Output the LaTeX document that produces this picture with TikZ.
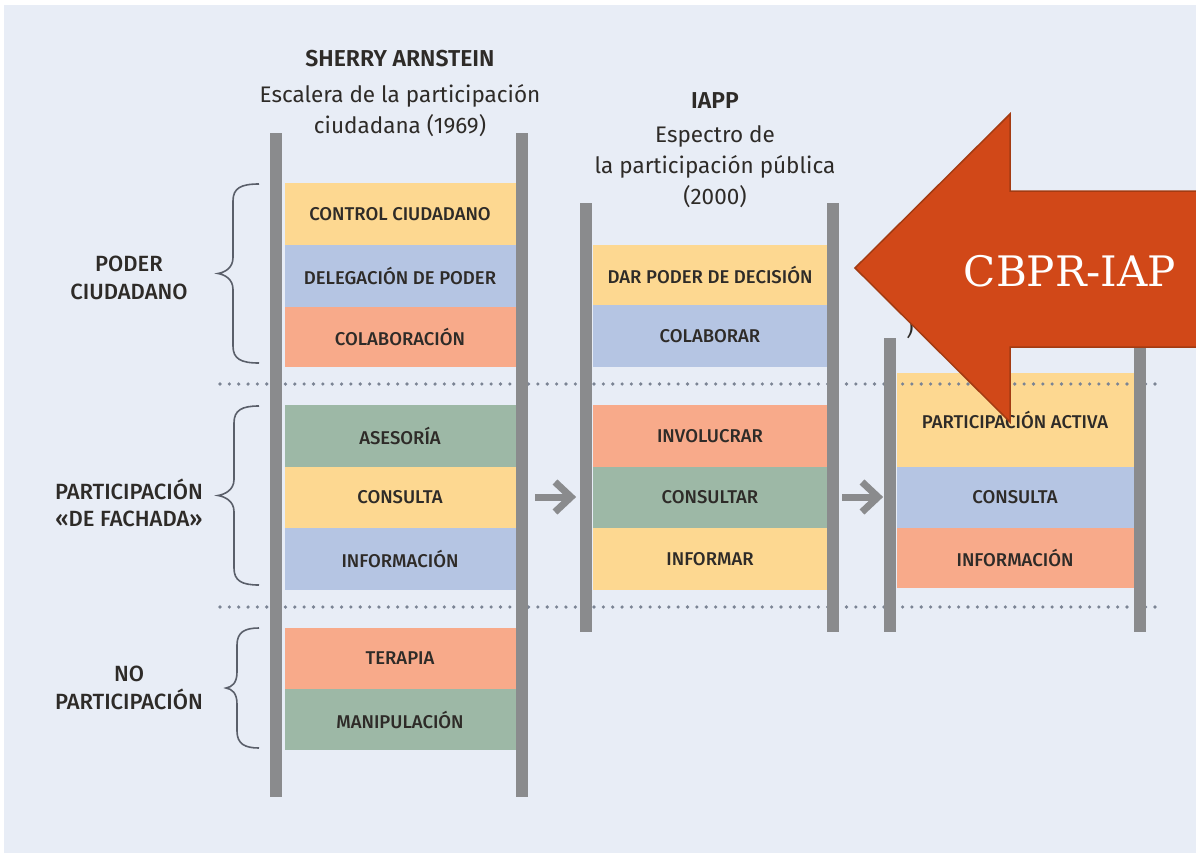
\documentclass[tikz,border=0pt]{standalone}
\usepackage{fontspec}
\setmainfont{Fira Sans}[UprightFont={Fira Sans Medium}, BoldFont={Fira Sans SemiBold}]
\newfontfamily\arrowfont{DejaVu Serif}
\newfontfamily\hdrfont{Fira Sans}[BoldFont={Fira Sans SemiBold}]
\definecolor{bg}{HTML}{E8EDF6}
\definecolor{cyel}{HTML}{FDD891}
\definecolor{cblu}{HTML}{B5C5E3}
\definecolor{csal}{HTML}{F8AA8A}
\definecolor{cgrn}{HTML}{9DB8A6}
\definecolor{rail}{HTML}{8A8B8D}
\definecolor{dots}{HTML}{7B8494}
\definecolor{brc}{HTML}{5A5F6A}
\definecolor{txt}{HTML}{2E2B28}
\definecolor{bigarrow}{HTML}{D14818}
\definecolor{bigedge}{HTML}{A33B12}
\tikzset{
  rung/.style={inner sep=0pt, outer sep=0pt, text=txt,
    font=\fontsize{18.5}{21}\selectfont},
  hdr/.style={inner sep=0pt, text=txt, font=\hdrfont\fontsize{22.5}{26}\selectfont},
  hdrb/.style={inner sep=0pt, text=txt, font=\hdrfont\fontsize{23}{26}\selectfont\bfseries},
  grp/.style={inner sep=0pt, text=txt, align=center,
    font=\fontsize{22}{27.5}\selectfont},
  railline/.style={draw=rail, line width=12.5pt},
  dotline/.style={draw=dots, line width=3.6pt, line cap=round, dash pattern=on 0pt off 9.35pt},
  bracestyle/.style={draw=brc, line width=1.6pt},
  grayarrow/.style={draw=rail, line width=7pt},
}
\newcommand{\mybrace}[4]{% top, bottom, spine x, tip x
  \pgfmathsetmacro\bm{(#1+#2)/2}
  \draw[bracestyle] (259,#1) .. controls (#3+8,#1) and (#3,#1+4) .. (#3,#1+17)
    -- (#3,\bm-16) .. controls (#3,\bm-5) and (#4+6,\bm-1) .. (#4,\bm)
    .. controls (#4+6,\bm+1) and (#3,\bm+5) .. (#3,\bm+16)
    -- (#3,#2-17) .. controls (#3,#2-4) and (#3+8,#2) .. (259,#2);
}
\begin{document}
\begin{tikzpicture}[x=1pt,y=-1pt]
\useasboundingbox (0,0) rectangle (1196,854);
\fill[white] (0,0) rectangle (1196,854);
\fill[bg] (4,5) rectangle (1196,853);

% headers
\node[hdrb] (h1a) at (400,59) {SHERRY ARNSTEIN};
\node[hdr] (h1b) at (400,96) {Escalera de la participación};
\node[hdr] (h1c) at (400,126) {ciudadana (1969)};
\node[hdrb] (h2a) at (715,101) {IAPP};
\node[hdr] (h2b) at (715,136) {Espectro de};
\node[hdr] (h2c) at (715,167) {la participación pública};
\node[hdr] (h2d) at (715,197) {(2000)};
\node[hdr] (h3x) at (910,328) {)};

% column 1 rungs
\node[rung, fill=cyel, minimum width=231, minimum height=62] (a1) at (400,214) {CONTROL CIUDADANO};
\node[rung, fill=cblu, minimum width=231, minimum height=62] (a2) at (400,276) {DELEGACIÓN DE PODER};
\node[rung, fill=csal, minimum width=231, minimum height=60] (a3) at (400,337) {COLABORACIÓN};
\node[rung, fill=cgrn, minimum width=231, minimum height=62] (a4) at (400,436) {ASESORÍA};
\node[rung, fill=cyel, minimum width=231, minimum height=61] (a5) at (400,497.5) {CONSULTA};
\node[rung, fill=cblu, minimum width=231, minimum height=62] (a6) at (400,559) {INFORMACIÓN};
\node[rung, fill=csal, minimum width=231, minimum height=61] (a7) at (400,658.5) {TERAPIA};
\node[rung, fill=cgrn, minimum width=231, minimum height=61] (a8) at (400,719.5) {MANIPULACIÓN};

% column 2 rungs
\node[rung, fill=cyel, minimum width=235, minimum height=60] (b1) at (710,275) {DAR PODER DE DECISIÓN};
\node[rung, fill=cblu, minimum width=235, minimum height=62] (b2) at (710,336) {COLABORAR};
\node[rung, fill=csal, minimum width=235, minimum height=62] (b3) at (710,436) {INVOLUCRAR};
\node[rung, fill=cgrn, minimum width=235, minimum height=61] (b4) at (710,497.5) {CONSULTAR};
\node[rung, fill=cyel, minimum width=235, minimum height=62] (b5) at (710,559) {INFORMAR};

% column 3 rungs
\node[rung, fill=cyel, minimum width=237, minimum height=94] (c1) at (1015,420) {};
\node[rung] (c1t) at (1015,420) {PARTICIPACIÓN ACTIVA};
\node[rung, fill=cblu, minimum width=237, minimum height=61] (c2) at (1015,497.5) {CONSULTA};
\node[rung, fill=csal, minimum width=237, minimum height=60] (c3) at (1015,558) {INFORMACIÓN};

% dotted separators
\coordinate (d1s) at (220,384);
\coordinate (d1e) at (1163,384);
\coordinate (d2s) at (220,607);
\coordinate (d2e) at (1163,607);
\draw[dotline] (d1s) -- (d1e);
\draw[dotline] (d2s) -- (d2e);

% rails
\coordinate (r1lt) at (276,133); \coordinate (r1lb) at (276,797);
\coordinate (r1rt) at (522,133); \coordinate (r1rb) at (522,797);
\coordinate (r2lt) at (586,203); \coordinate (r2lb) at (586,632);
\coordinate (r2rt) at (833,203); \coordinate (r2rb) at (833,632);
\coordinate (r3lt) at (890,338); \coordinate (r3lb) at (890,632);
\coordinate (r3rt) at (1140,338); \coordinate (r3rb) at (1140,632);
\draw[railline] (r1lt) -- (r1lb);
\draw[railline] (r1rt) -- (r1rb);
\draw[railline] (r2lt) -- (r2lb);
\draw[railline] (r2rt) -- (r2rb);
\draw[railline] (r3lt) -- (r3lb);
\draw[railline] (r3rt) -- (r3rb);

% gray arrows between columns
\coordinate (g1s) at (535,497); \coordinate (g1e) at (570,497);
\coordinate (g2s) at (842,497); \coordinate (g2e) at (877,497);
\draw[grayarrow] (g1s) -- (g1e);
\draw[grayarrow, miter limit=10] (555,482) -- (571,497) -- (555,512);
\draw[grayarrow] (g2s) -- (g2e);
\draw[grayarrow, miter limit=10] (862,482) -- (878,497) -- (862,512);

% braces and group labels
\mybrace{184}{363}{233}{218}
\mybrace{406}{585}{234}{218}
\mybrace{628}{748}{237}{226}
\node[grp] (l1) at (129,278) {PODER\\CIUDADANO};
\node[grp] (l2) at (129,503) {PARTICIPACIÓN\\«DE FACHADA»};
\node[grp] (l3) at (129,688) {NO\\PARTICIPACIÓN};

% big arrow
\draw[fill=bigarrow, draw=bigedge, line width=1.5pt, line join=miter]
  (855,268) -- (1010,114) -- (1010,191) -- (1205,191) -- (1205,347)
  -- (1010,347) -- (1010,422) -- cycle;
\node[inner sep=0pt, text=white, font=\arrowfont\fontsize{42}{48}\selectfont] (cbpr) at (1070,271) {CBPR-IAP};
\end{tikzpicture}
\end{document}
